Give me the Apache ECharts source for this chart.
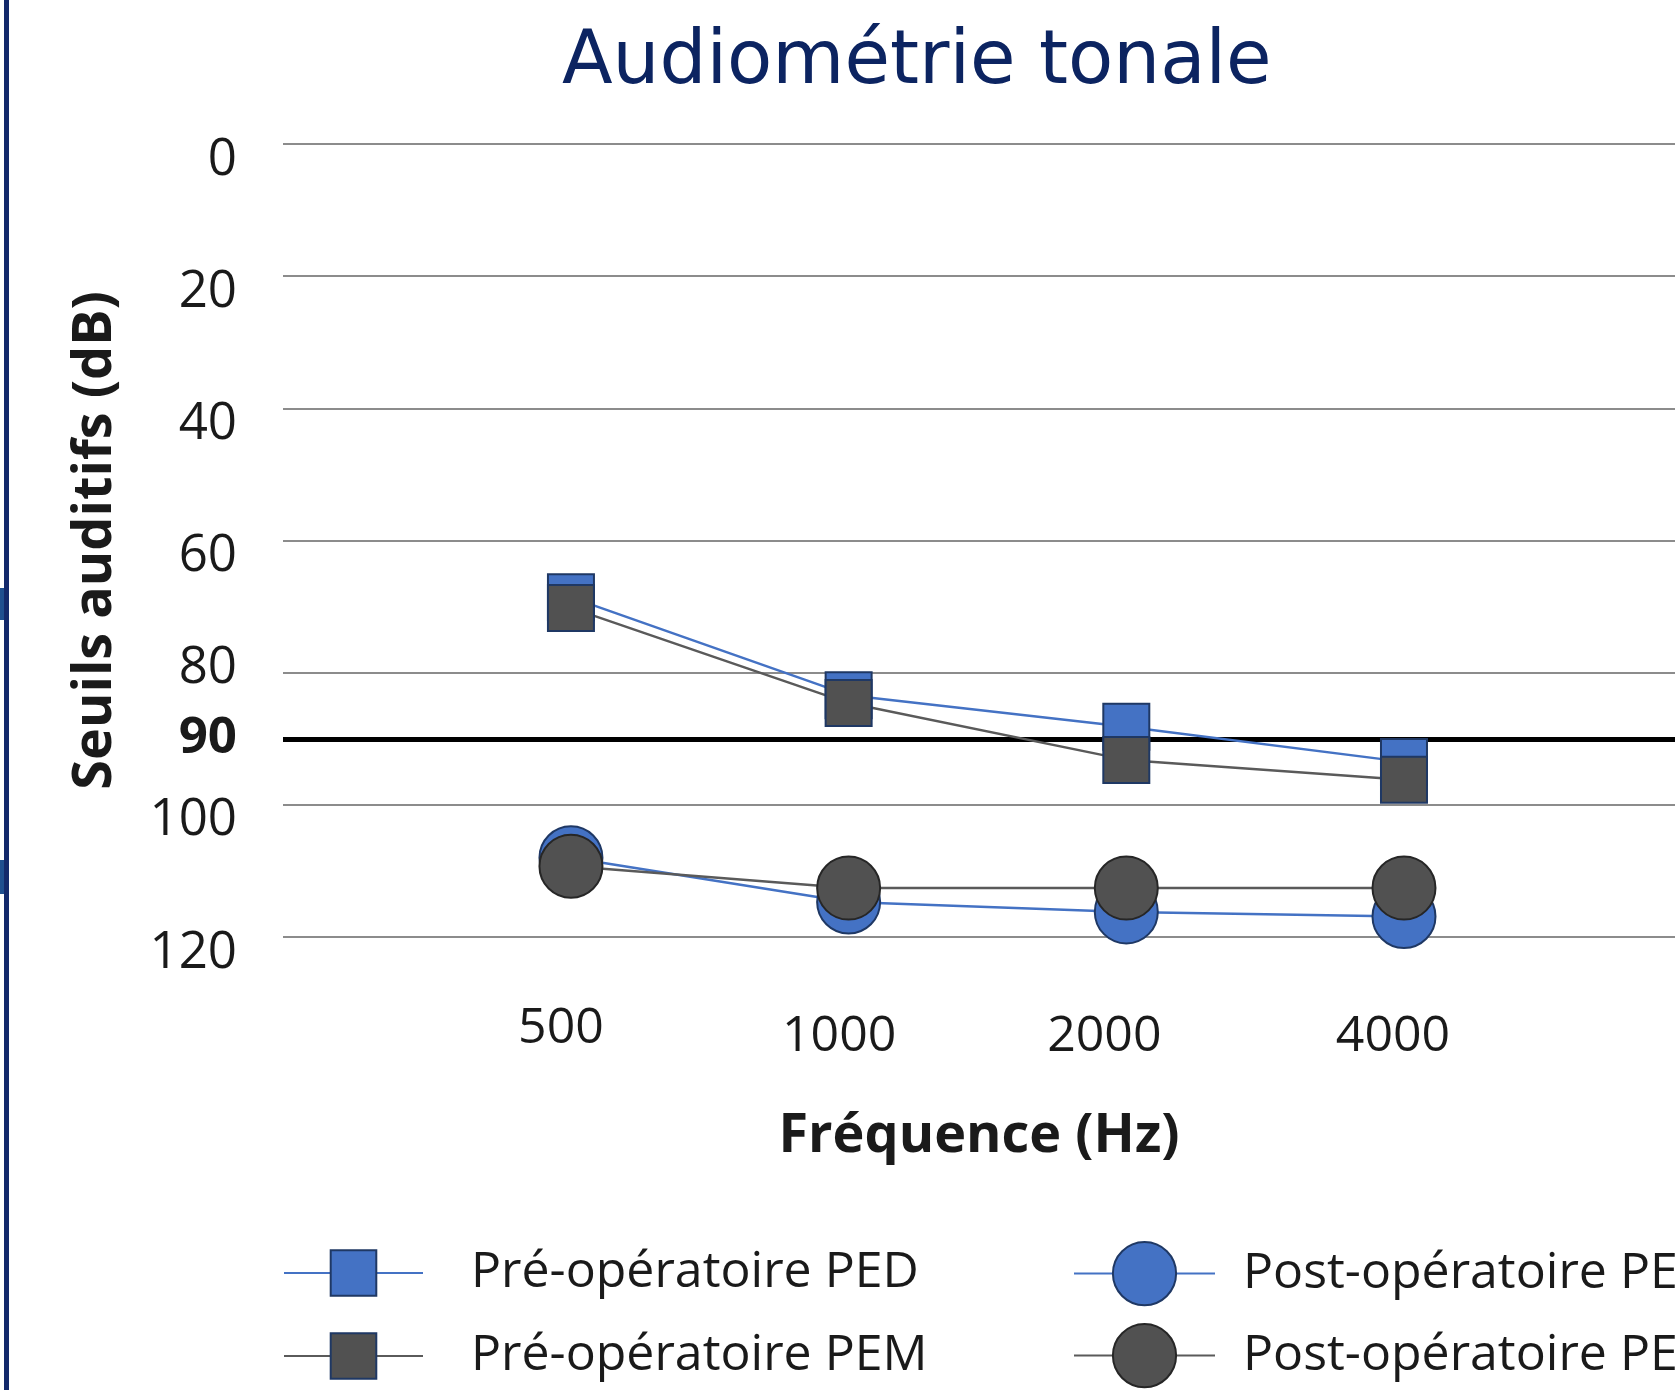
<!DOCTYPE html>
<html>
<head>
<meta charset="utf-8">
<title>Audiométrie tonale</title>
<script src="https://cdn.jsdelivr.net/npm/echarts@6/dist/echarts.min.js"></script>
<style>
  html, body { margin: 0; padding: 0; background: #fff; }
  #chart { width: 1675px; height: 1390px; }
</style>
</head>
<body>
<div id="chart"></div>
<script>
// frequences (Hz) et seuils auditifs (dB)
const frequencies = ['500', '1000', '2000', '4000'];
const preOpPED = [68.6, 83.4, 88.2, 93.5];
const preOpPEM = [70.2, 84.6, 93.2, 96.2];
const postOpPED = [108, 114.7, 116.2, 116.9];
const postOpPEM = [109.3, 112.6, 112.6, 112.6];
const yTicks = [0, 20, 40, 60, 80, 90, 100, 120];
const gridValues = [0, 20, 40, 60, 80, 100, 120];
const thresholdValue = 90;

const BLUE = '#4472C4';
const GREY = '#515151';
const LINE_GREY = '#5a5a5a';
const NAVY = '#1f3864';
const TEXT = '#1a1a1a';

function toPoints(arr) {
  return arr.map((v, i) => [i, v]);
}

// une legende par entree, pour placer chaque ligne comme sur la figure
function legendItem(name, left, top, iconW, iconH, textGap) {
  return {
    data: [name],
    left: left,
    top: top,
    padding: 0,
    itemWidth: iconW,
    itemHeight: iconH,
    textStyle: { fontFamily: 'Open Sans', fontSize: 50, color: TEXT, padding: [0, 0, 0, textGap] }
  };
}

let myChart = echarts.init(document.getElementById('chart'));

myChart.setOption({
  animation: false,
  title: {
    text: 'Audiométrie tonale',
    left: 562,
    top: 27,
    padding: 0,
    textStyle: {
      fontFamily: 'DejaVu Sans',
      fontSize: 74,
      fontWeight: 'normal',
      color: '#0c2461'
    }
  },
  graphic: [
    { type: 'rect', left: 4, top: 0, shape: { width: 5, height: 1390 }, style: { fill: '#13296b' } },
    { type: 'rect', left: 0, top: 588, shape: { width: 4, height: 32 }, style: { fill: '#1f4f8f' } },
    { type: 'rect', left: 0, top: 860, shape: { width: 4, height: 34 }, style: { fill: '#1f4f8f' } }
  ],
  legend: [
    legendItem('Pré-opératoire PED', 283, 1248, 139, 57, 43),
    legendItem('Pré-opératoire PEM', 283, 1331, 139, 57, 43),
    legendItem('Post-opératoire PED', 1073, 1241, 141, 79, 23),
    legendItem('Post-opératoire PEM', 1073, 1323, 141, 79, 23)
  ],
  grid: {
    left: 283,
    right: 0,
    top: 144,
    bottom: 453,
    containLabel: false
  },
  xAxis: {
    type: 'value',
    min: -1.037,
    max: 3.976,
    name: 'Fréquence (Hz)',
    nameLocation: 'middle',
    nameGap: 173,
    nameTextStyle: { fontFamily: 'Open Sans', fontSize: 54, fontWeight: 'bold', color: TEXT },
    axisLine: { show: false },
    axisTick: { show: false },
    splitLine: { show: false },
    axisLabel: {
      customValues: [0, 1, 2, 3],
      margin: 67,
      fontFamily: 'Open Sans',
      fontSize: 50,
      color: TEXT,
      formatter: function (v) {
        return '{l' + v + '|' + frequencies[v] + '}';
      },
      rich: {
        l0: { padding: [0, 20, 0, 0] },
        l1: { padding: [8, 19, 0, 0] },
        l2: { padding: [8, 44, 0, 0] },
        l3: { padding: [8, 22, 0, 0] }
      }
    }
  },
  yAxis: {
    type: 'value',
    inverse: true,
    min: 0,
    max: 120,
    name: 'Seuils auditifs (dB)',
    nameLocation: 'middle',
    nameGap: 160,
    nameTextStyle: { fontFamily: 'Open Sans', fontSize: 54, fontWeight: 'bold', color: TEXT },
    axisLine: { show: false },
    axisTick: { show: false },
    splitLine: { show: false },
    axisLabel: {
      customValues: yTicks,
      margin: 46,
      fontFamily: 'Open Sans',
      fontSize: 51,
      color: TEXT,
      formatter: function (v) {
        if (v === thresholdValue) return '{b|' + v + '}';
        if (v === 80) return '{up|' + v + '}';
        return '{n|' + v + '}';
      },
      rich: {
        n: { padding: [32, 0, 0, 0] },
        up: { padding: [0, 0, 8, 0] },
        b: { fontWeight: 'bold' }
      }
    }
  },
  series: [
    {
      name: 'Pré-opératoire PED',
      type: 'line',
      data: toPoints(preOpPED),
      symbol: 'rect',
      symbolSize: 46,
      lineStyle: { color: BLUE, width: 2.5 },
      itemStyle: { color: BLUE, borderColor: NAVY, borderWidth: 2 },
      markLine: {
        silent: true,
        z: 1,
        symbol: 'none',
        label: { show: false },
        data: gridValues.map(v => ({ yAxis: v, lineStyle: { color: '#8c8c8c', width: 2, type: 'solid' } }))
          .concat([{ yAxis: thresholdValue, lineStyle: { color: '#000', width: 5, type: 'solid' } }])
      }
    },
    {
      name: 'Pré-opératoire PEM',
      type: 'line',
      data: toPoints(preOpPEM),
      symbol: 'rect',
      symbolSize: 46,
      lineStyle: { color: LINE_GREY, width: 2.5 },
      itemStyle: { color: GREY, borderColor: NAVY, borderWidth: 2 }
    },
    {
      name: 'Post-opératoire PED',
      type: 'line',
      data: toPoints(postOpPED),
      symbol: 'circle',
      symbolSize: 63,
      lineStyle: { color: BLUE, width: 2.5 },
      itemStyle: { color: BLUE, borderColor: NAVY, borderWidth: 2 }
    },
    {
      name: 'Post-opératoire PEM',
      type: 'line',
      data: toPoints(postOpPEM),
      symbol: 'circle',
      symbolSize: 63,
      lineStyle: { color: LINE_GREY, width: 2.5 },
      itemStyle: { color: GREY, borderColor: '#262626', borderWidth: 2 }
    }
  ]
});
</script>
</body>
</html>
